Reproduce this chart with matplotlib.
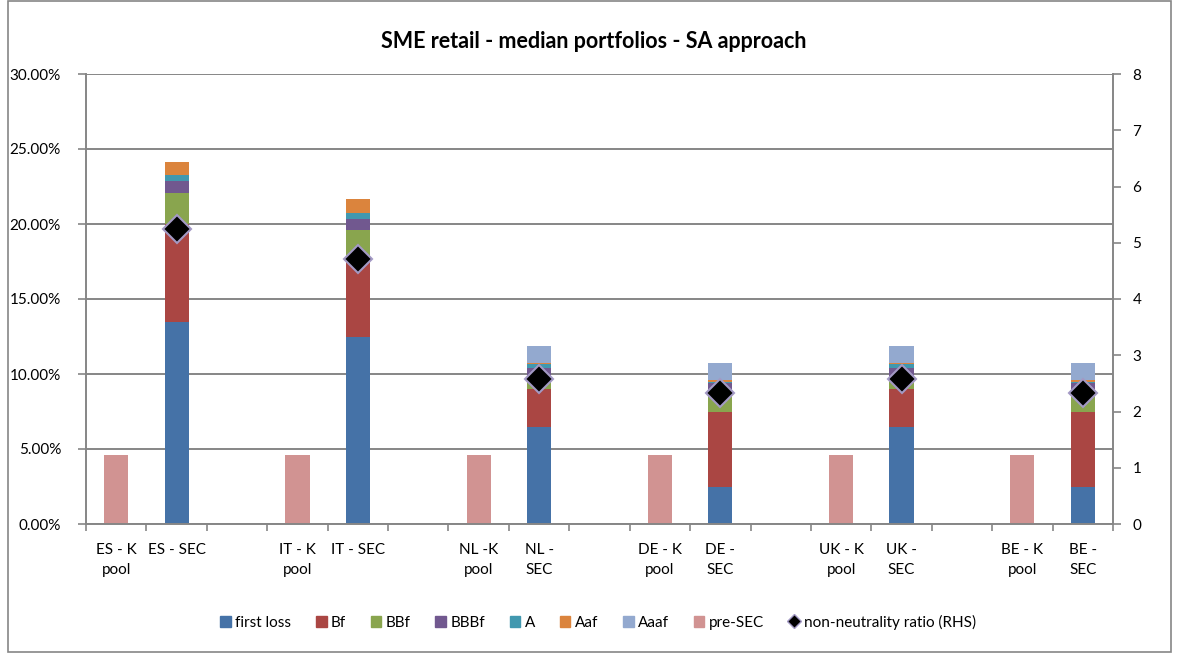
import matplotlib
matplotlib.use("Agg")
import matplotlib.pyplot as plt
import matplotlib.patches as mpatches
from matplotlib.lines import Line2D
from matplotlib.ticker import FuncFormatter, FixedLocator
import numpy as np

plt.rcParams["font.family"] = ["Lato", "DejaVu Sans"]

GREY = "#868686"

CATEGORIES = [
    "ES - K\npool", "ES - SEC", "",
    "IT - K\npool", "IT - SEC", "",
    "NL -K\npool", "NL -\nSEC", "",
    "DE - K\npool", "DE -\nSEC", "",
    "UK - K\npool", "UK -\nSEC", "",
    "BE - K\npool", "BE -\nSEC",
]

# values in % of portfolio (left axis)
first_loss = [0, 13.5, 0, 0, 12.5, 0, 0, 6.5, 0, 0, 2.5, 0, 0, 6.5, 0, 0, 2.5]
bf         = [0, 6.5, 0, 0, 5.0, 0, 0, 2.5, 0, 0, 5.0, 0, 0, 2.5, 0, 0, 5.0]
bbf        = [0, 2.05, 0, 0, 2.1, 0, 0, 0.8, 0, 0, 1.2, 0, 0, 0.8, 0, 0, 1.2]
bbbf       = [0, 0.8, 0, 0, 0.76, 0, 0, 0.58, 0, 0, 0.68, 0, 0, 0.58, 0, 0, 0.68]
a_tr       = [0, 0.4, 0, 0, 0.4, 0, 0, 0.27, 0, 0, 0.1, 0, 0, 0.27, 0, 0, 0.1]
aaf        = [0, 0.85, 0, 0, 0.9, 0, 0, 0.1, 0, 0, 0.1, 0, 0, 0.1, 0, 0, 0.1]
aaaf       = [0, 0, 0, 0, 0, 0, 0, 1.1, 0, 0, 1.15, 0, 0, 1.1, 0, 0, 1.15]
pre_sec    = [4.6, 0, 0, 4.6, 0, 0, 4.6, 0, 0, 4.6, 0, 0, 4.6, 0, 0, 4.6, 0]

# non-neutrality ratio (right axis)
ratio = [np.nan, 5.24, np.nan, np.nan, 4.71, np.nan, np.nan, 2.58, np.nan,
         np.nan, 2.33, np.nan, np.nan, 2.58, np.nan, np.nan, 2.33]

SERIES = [
    ("first loss", first_loss, "#4572A7"),
    ("Bf",         bf,         "#AA4643"),
    ("BBf",        bbf,        "#89A54E"),
    ("BBBf",       bbbf,       "#71588F"),
    ("A",          a_tr,       "#4198AF"),
    ("Aaf",        aaf,        "#DB843D"),
    ("Aaaf",       aaaf,       "#93A9CF"),
    ("pre-SEC",    pre_sec,    "#D19392"),
]

fig = plt.figure(figsize=(11.77, 6.54), dpi=100)
fig.patch.set_facecolor("white")
ax = fig.add_axes([86 / 1177, 130 / 654, (1113 - 86) / 1177, (524 - 74) / 654])

x = np.arange(len(CATEGORIES))
bottom = np.zeros(len(CATEGORIES))
handles = []
for name, vals, col in SERIES:
    vals = np.array(vals, dtype=float)
    ax.bar(x, vals, width=0.4, bottom=bottom, color=col, edgecolor="none", zorder=2)
    bottom += vals
    handles.append(mpatches.Patch(color=col, label=name))

ax.set_xlim(-0.5, len(CATEGORIES) - 0.5)
ax.set_ylim(0, 30)
ax.yaxis.set_major_locator(FixedLocator(np.arange(0, 30.1, 5)))
ax.yaxis.set_major_formatter(FuncFormatter(lambda v, p: f"{v:.2f}%"))
ax.grid(axis="y", color=GREY, linewidth=1.4)
ax.set_axisbelow(True)

ax.set_xticks(x)
ax.set_xticklabels(CATEGORIES, fontsize=11, linespacing=1.5)
ax.set_xticks(np.arange(-0.5, len(CATEGORIES)), minor=True)
ax.tick_params(axis="x", which="major", length=0, pad=14)
ax.tick_params(axis="x", which="minor", length=5, color=GREY, width=1.2)
ax.tick_params(axis="y", length=6, color=GREY, width=1.2, labelsize=11, pad=12)

for s in ["top", "right"]:
    ax.spines[s].set_visible(False)
for s in ["left", "bottom"]:
    ax.spines[s].set_color(GREY)
    ax.spines[s].set_linewidth(1.4)

ax2 = ax.twinx()
ax2.plot(x, ratio, linestyle="none", marker="D", markersize=14,
         markerfacecolor="black", markeredgecolor="#A399C4", markeredgewidth=1.5,
         zorder=5)
ax2.set_ylim(0, 8)
ax2.set_yticks(range(0, 9))
ax2.tick_params(axis="y", length=6, color=GREY, width=1.2, labelsize=11, pad=8)
for s in ["top", "left", "bottom"]:
    ax2.spines[s].set_visible(False)
ax2.spines["right"].set_color(GREY)
ax2.spines["right"].set_linewidth(1.4)

fig.text(594 / 1177, 1 - 41 / 654, "SME retail - median portfolios - SA approach",
         ha="center", va="center", fontsize=15.5, fontweight="bold")

handles.append(Line2D([], [], linestyle="none", marker="D", markersize=7,
                      markerfacecolor="black", markeredgecolor="#A399C4",
                      label="non-neutrality ratio (RHS)"))
fig.legend(handles=handles, loc="center", bbox_to_anchor=(598 / 1177, 1 - 622 / 654),
           ncol=9, frameon=False, fontsize=11, handlelength=0.7, handleheight=0.7,
           handletextpad=0.3, columnspacing=1.6)

fig.add_artist(mpatches.Rectangle((8 / 1177, 2 / 654), (1171 - 8) / 1177, 651 / 654,
                                  transform=fig.transFigure, fill=False,
                                  edgecolor=GREY, linewidth=1.2))

fig.savefig("out.png", dpi=100, facecolor="white")
